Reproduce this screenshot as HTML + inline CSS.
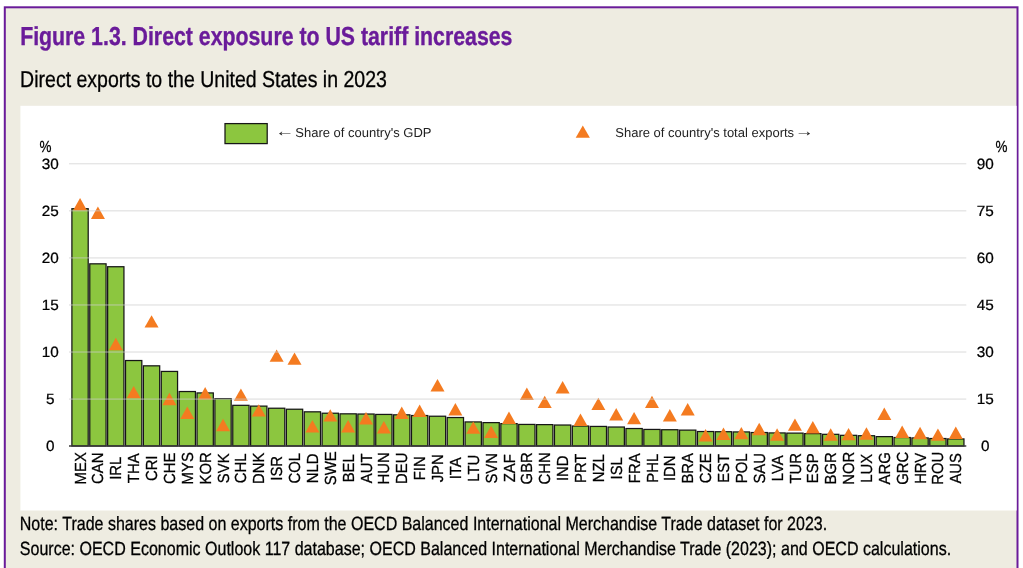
<!DOCTYPE html>
<html lang="en"><head><meta charset="utf-8"><title>Figure 1.3. Direct exposure to US tariff increases</title>
<style>html,body{margin:0;padding:0;background:#fff;overflow:hidden}svg{display:block}text{font-family:"Liberation Sans",Arial,Helvetica,sans-serif;text-rendering:geometricPrecision}.ax{font-size:15.3px;fill:#000;stroke:#000;stroke-width:.25px}.lg{font-size:13px;fill:#222}.bar{fill:#8cc63f;stroke:#161616;stroke-width:1.25}.tri{fill:#f47b20}.grid{stroke:#cdcdcd;stroke-width:.8;opacity:.9}</style></head><body>
<svg width="1023" height="568" viewBox="0 0 1023 568">
<rect x="0" y="0" width="1023" height="568" fill="#fff"/>
<rect x="4.8" y="7.3" width="1012.7" height="570" fill="#eeece1" stroke="#6a1b9a" stroke-width="2"/>
<rect x="20.4" y="105.8" width="996.2" height="404.7" fill="#fff"/>
<text x="20.15" y="45" font-size="26" font-weight="bold" fill="#6a1b9a" stroke="#6a1b9a" stroke-width=".35" textLength="492.3" lengthAdjust="spacingAndGlyphs">Figure 1.3. Direct exposure to US tariff increases</text>
<text x="20.1" y="86.6" font-size="23" fill="#000" stroke="#000" stroke-width=".3" textLength="366.8" lengthAdjust="spacingAndGlyphs">Direct exports to the United States in 2023</text>
<text x="19.8" y="530.3" font-size="19.2" fill="#000" stroke="#000" stroke-width=".3" textLength="807.4" lengthAdjust="spacingAndGlyphs">Note: Trade shares based on exports from the OECD Balanced International Merchandise Trade dataset for 2023.</text>
<text x="19.8" y="554.9" font-size="19.2" fill="#000" stroke="#000" stroke-width=".3" textLength="931.3" lengthAdjust="spacingAndGlyphs">Source: OECD Economic Outlook 117 database; OECD Balanced International Merchandise Trade (2023); and OECD calculations.</text>
<g>
<rect class="bar" x="71.90" y="208.72" width="16.30" height="237.28"/>
<rect class="bar" x="89.77" y="263.83" width="16.30" height="182.17"/>
<rect class="bar" x="107.64" y="266.73" width="16.30" height="179.27"/>
<rect class="bar" x="125.52" y="360.53" width="16.30" height="85.47"/>
<rect class="bar" x="143.39" y="365.83" width="16.30" height="80.17"/>
<rect class="bar" x="161.26" y="371.43" width="16.30" height="74.57"/>
<rect class="bar" x="179.13" y="391.53" width="16.30" height="54.47"/>
<rect class="bar" x="197.01" y="392.93" width="16.30" height="53.07"/>
<rect class="bar" x="214.88" y="398.62" width="16.30" height="47.38"/>
<rect class="bar" x="232.75" y="405.33" width="16.30" height="40.67"/>
<rect class="bar" x="250.62" y="406.12" width="16.30" height="39.88"/>
<rect class="bar" x="268.50" y="408.23" width="16.30" height="37.77"/>
<rect class="bar" x="286.37" y="409.23" width="16.30" height="36.77"/>
<rect class="bar" x="304.24" y="411.83" width="16.30" height="34.17"/>
<rect class="bar" x="322.11" y="413.23" width="16.30" height="32.77"/>
<rect class="bar" x="339.99" y="413.83" width="16.30" height="32.17"/>
<rect class="bar" x="357.86" y="414.03" width="16.30" height="31.97"/>
<rect class="bar" x="375.73" y="414.43" width="16.30" height="31.57"/>
<rect class="bar" x="393.60" y="414.83" width="16.30" height="31.17"/>
<rect class="bar" x="411.48" y="415.53" width="16.30" height="30.47"/>
<rect class="bar" x="429.35" y="416.23" width="16.30" height="29.77"/>
<rect class="bar" x="447.22" y="417.53" width="16.30" height="28.47"/>
<rect class="bar" x="465.09" y="421.93" width="16.30" height="24.07"/>
<rect class="bar" x="482.97" y="422.62" width="16.30" height="23.38"/>
<rect class="bar" x="500.84" y="423.62" width="16.30" height="22.38"/>
<rect class="bar" x="518.71" y="424.43" width="16.30" height="21.57"/>
<rect class="bar" x="536.58" y="424.62" width="16.30" height="21.38"/>
<rect class="bar" x="554.46" y="425.03" width="16.30" height="20.97"/>
<rect class="bar" x="572.33" y="426.03" width="16.30" height="19.97"/>
<rect class="bar" x="590.20" y="426.43" width="16.30" height="19.57"/>
<rect class="bar" x="608.07" y="427.03" width="16.30" height="18.97"/>
<rect class="bar" x="625.95" y="428.53" width="16.30" height="17.47"/>
<rect class="bar" x="643.82" y="429.43" width="16.30" height="16.57"/>
<rect class="bar" x="661.69" y="429.73" width="16.30" height="16.27"/>
<rect class="bar" x="679.56" y="430.12" width="16.30" height="15.88"/>
<rect class="bar" x="697.44" y="431.53" width="16.30" height="14.47"/>
<rect class="bar" x="715.31" y="431.73" width="16.30" height="14.27"/>
<rect class="bar" x="733.18" y="431.93" width="16.30" height="14.07"/>
<rect class="bar" x="751.05" y="432.53" width="16.30" height="13.47"/>
<rect class="bar" x="768.93" y="432.93" width="16.30" height="13.07"/>
<rect class="bar" x="786.80" y="433.12" width="16.30" height="12.88"/>
<rect class="bar" x="804.67" y="433.62" width="16.30" height="12.38"/>
<rect class="bar" x="822.54" y="434.33" width="16.30" height="11.67"/>
<rect class="bar" x="840.42" y="435.33" width="16.30" height="10.67"/>
<rect class="bar" x="858.29" y="435.73" width="16.30" height="10.27"/>
<rect class="bar" x="876.16" y="436.62" width="16.30" height="9.38"/>
<rect class="bar" x="894.03" y="437.53" width="16.30" height="8.47"/>
<rect class="bar" x="911.91" y="437.93" width="16.30" height="8.07"/>
<rect class="bar" x="929.78" y="438.53" width="16.30" height="7.47"/>
<rect class="bar" x="947.65" y="438.93" width="16.30" height="7.07"/>
</g>
<g>
<path class="tri" d="M80.05 198.00L87.05 210.40L73.05 210.40Z"/>
<path class="tri" d="M97.92 206.60L104.92 219.00L90.92 219.00Z"/>
<path class="tri" d="M115.79 337.80L122.79 350.20L108.79 350.20Z"/>
<path class="tri" d="M133.67 385.90L140.67 398.30L126.67 398.30Z"/>
<path class="tri" d="M151.54 315.20L158.54 327.60L144.54 327.60Z"/>
<path class="tri" d="M169.41 392.80L176.41 405.20L162.41 405.20Z"/>
<path class="tri" d="M187.28 406.60L194.28 419.00L180.28 419.00Z"/>
<path class="tri" d="M205.16 387.00L212.16 399.40L198.16 399.40Z"/>
<path class="tri" d="M223.03 418.80L230.03 431.20L216.03 431.20Z"/>
<path class="tri" d="M240.90 388.40L247.90 400.80L233.90 400.80Z"/>
<path class="tri" d="M258.77 404.20L265.77 416.60L251.77 416.60Z"/>
<path class="tri" d="M276.65 349.40L283.65 361.80L269.65 361.80Z"/>
<path class="tri" d="M294.52 352.40L301.52 364.80L287.52 364.80Z"/>
<path class="tri" d="M312.39 420.00L319.39 432.40L305.39 432.40Z"/>
<path class="tri" d="M330.26 409.20L337.26 421.60L323.26 421.60Z"/>
<path class="tri" d="M348.14 420.00L355.14 432.40L341.14 432.40Z"/>
<path class="tri" d="M366.01 412.10L373.01 424.50L359.01 424.50Z"/>
<path class="tri" d="M383.88 421.00L390.88 433.40L376.88 433.40Z"/>
<path class="tri" d="M401.75 406.60L408.75 419.00L394.75 419.00Z"/>
<path class="tri" d="M419.63 404.60L426.63 417.00L412.63 417.00Z"/>
<path class="tri" d="M437.50 379.00L444.50 391.40L430.50 391.40Z"/>
<path class="tri" d="M455.37 403.00L462.37 415.40L448.37 415.40Z"/>
<path class="tri" d="M473.24 421.40L480.24 433.80L466.24 433.80Z"/>
<path class="tri" d="M491.12 425.70L498.12 438.10L484.12 438.10Z"/>
<path class="tri" d="M508.99 411.50L515.99 423.90L501.99 423.90Z"/>
<path class="tri" d="M526.86 387.60L533.86 400.00L519.86 400.00Z"/>
<path class="tri" d="M544.73 395.70L551.73 408.10L537.73 408.10Z"/>
<path class="tri" d="M562.61 381.00L569.61 393.40L555.61 393.40Z"/>
<path class="tri" d="M580.48 413.60L587.48 426.00L573.48 426.00Z"/>
<path class="tri" d="M598.35 397.70L605.35 410.10L591.35 410.10Z"/>
<path class="tri" d="M616.22 408.00L623.22 420.40L609.22 420.40Z"/>
<path class="tri" d="M634.10 411.90L641.10 424.30L627.10 424.30Z"/>
<path class="tri" d="M651.97 395.70L658.97 408.10L644.97 408.10Z"/>
<path class="tri" d="M669.84 409.00L676.84 421.40L662.84 421.40Z"/>
<path class="tri" d="M687.71 403.00L694.71 415.40L680.71 415.40Z"/>
<path class="tri" d="M705.59 429.10L712.59 441.50L698.59 441.50Z"/>
<path class="tri" d="M723.46 427.50L730.46 439.90L716.46 439.90Z"/>
<path class="tri" d="M741.33 426.90L748.33 439.30L734.33 439.30Z"/>
<path class="tri" d="M759.20 422.80L766.20 435.20L752.20 435.20Z"/>
<path class="tri" d="M777.08 428.30L784.08 440.70L770.08 440.70Z"/>
<path class="tri" d="M794.95 418.40L801.95 430.80L787.95 430.80Z"/>
<path class="tri" d="M812.82 421.00L819.82 433.40L805.82 433.40Z"/>
<path class="tri" d="M830.69 428.30L837.69 440.70L823.69 440.70Z"/>
<path class="tri" d="M848.57 427.90L855.57 440.30L841.57 440.30Z"/>
<path class="tri" d="M866.44 427.30L873.44 439.70L859.44 439.70Z"/>
<path class="tri" d="M884.31 407.60L891.31 420.00L877.31 420.00Z"/>
<path class="tri" d="M902.18 425.50L909.18 437.90L895.18 437.90Z"/>
<path class="tri" d="M920.06 426.80L927.06 439.20L913.06 439.20Z"/>
<path class="tri" d="M937.93 428.40L944.93 440.80L930.93 440.80Z"/>
<path class="tri" d="M955.80 426.50L962.80 438.90L948.80 438.90Z"/>
</g>
<g>
<line class="grid" x1="69" y1="399.09" x2="966.3" y2="399.09"/>
<line class="grid" x1="69" y1="352.03" x2="966.3" y2="352.03"/>
<line class="grid" x1="69" y1="304.97" x2="966.3" y2="304.97"/>
<line class="grid" x1="69" y1="257.91" x2="966.3" y2="257.91"/>
<line class="grid" x1="69" y1="210.85" x2="966.3" y2="210.85"/>
<line class="grid" x1="69" y1="163.79" x2="966.3" y2="163.79"/>
</g>
<line x1="69" y1="446.00" x2="966.3" y2="446.00" stroke="#3a3a3a" stroke-width="1.5"/>
<g class="ax" text-anchor="middle">
<text transform="translate(50.2 451.15) scale(1 .975)">0</text>
<text transform="translate(985.3 451.15) scale(1 .975)">0</text>
<text transform="translate(50.2 404.09) scale(1 .975)">5</text>
<text transform="translate(985.3 404.09) scale(1 .975)">15</text>
<text transform="translate(50.2 357.03) scale(1 .975)">10</text>
<text transform="translate(985.3 357.03) scale(1 .975)">30</text>
<text transform="translate(50.2 309.97) scale(1 .975)">15</text>
<text transform="translate(985.3 309.97) scale(1 .975)">45</text>
<text transform="translate(50.2 262.91) scale(1 .975)">20</text>
<text transform="translate(985.3 262.91) scale(1 .975)">60</text>
<text transform="translate(50.2 215.85) scale(1 .975)">25</text>
<text transform="translate(985.3 215.85) scale(1 .975)">75</text>
<text transform="translate(50.2 168.79) scale(1 .975)">30</text>
<text transform="translate(985.3 168.79) scale(1 .975)">90</text>
<text transform="translate(45.4 151.6) scale(.88 1.05)">%</text>
<text transform="translate(1001.6 151.6) scale(.88 1.05)">%</text>
</g>
<g class="ax" text-anchor="middle">
<text transform="translate(85.60 468.3) rotate(-90) scale(.972 1.05)">MEX</text>
<text transform="translate(103.47 468.3) rotate(-90) scale(.972 1.05)">CAN</text>
<text transform="translate(121.34 468.3) rotate(-90) scale(.972 1.05)">IRL</text>
<text transform="translate(139.22 468.3) rotate(-90) scale(.972 1.05)">THA</text>
<text transform="translate(157.09 468.3) rotate(-90) scale(.972 1.05)">CRI</text>
<text transform="translate(174.96 468.3) rotate(-90) scale(.972 1.05)">CHE</text>
<text transform="translate(192.83 468.3) rotate(-90) scale(.972 1.05)">MYS</text>
<text transform="translate(210.71 468.3) rotate(-90) scale(.972 1.05)">KOR</text>
<text transform="translate(228.58 468.3) rotate(-90) scale(.972 1.05)">SVK</text>
<text transform="translate(246.45 468.3) rotate(-90) scale(.972 1.05)">CHL</text>
<text transform="translate(264.32 468.3) rotate(-90) scale(.972 1.05)">DNK</text>
<text transform="translate(282.20 468.3) rotate(-90) scale(.972 1.05)">ISR</text>
<text transform="translate(300.07 468.3) rotate(-90) scale(.972 1.05)">COL</text>
<text transform="translate(317.94 468.3) rotate(-90) scale(.972 1.05)">NLD</text>
<text transform="translate(335.81 468.3) rotate(-90) scale(.972 1.05)">SWE</text>
<text transform="translate(353.69 468.3) rotate(-90) scale(.972 1.05)">BEL</text>
<text transform="translate(371.56 468.3) rotate(-90) scale(.972 1.05)">AUT</text>
<text transform="translate(389.43 468.3) rotate(-90) scale(.972 1.05)">HUN</text>
<text transform="translate(407.30 468.3) rotate(-90) scale(.972 1.05)">DEU</text>
<text transform="translate(425.18 468.3) rotate(-90) scale(.972 1.05)">FIN</text>
<text transform="translate(443.05 468.3) rotate(-90) scale(.972 1.05)">JPN</text>
<text transform="translate(460.92 468.3) rotate(-90) scale(.972 1.05)">ITA</text>
<text transform="translate(478.79 468.3) rotate(-90) scale(.972 1.05)">LTU</text>
<text transform="translate(496.67 468.3) rotate(-90) scale(.972 1.05)">SVN</text>
<text transform="translate(514.54 468.3) rotate(-90) scale(.972 1.05)">ZAF</text>
<text transform="translate(532.41 468.3) rotate(-90) scale(.972 1.05)">GBR</text>
<text transform="translate(550.28 468.3) rotate(-90) scale(.972 1.05)">CHN</text>
<text transform="translate(568.16 468.3) rotate(-90) scale(.972 1.05)">IND</text>
<text transform="translate(586.03 468.3) rotate(-90) scale(.972 1.05)">PRT</text>
<text transform="translate(603.90 468.3) rotate(-90) scale(.972 1.05)">NZL</text>
<text transform="translate(621.77 468.3) rotate(-90) scale(.972 1.05)">ISL</text>
<text transform="translate(639.65 468.3) rotate(-90) scale(.972 1.05)">FRA</text>
<text transform="translate(657.52 468.3) rotate(-90) scale(.972 1.05)">PHL</text>
<text transform="translate(675.39 468.3) rotate(-90) scale(.972 1.05)">IDN</text>
<text transform="translate(693.26 468.3) rotate(-90) scale(.972 1.05)">BRA</text>
<text transform="translate(711.14 468.3) rotate(-90) scale(.972 1.05)">CZE</text>
<text transform="translate(729.01 468.3) rotate(-90) scale(.972 1.05)">EST</text>
<text transform="translate(746.88 468.3) rotate(-90) scale(.972 1.05)">POL</text>
<text transform="translate(764.75 468.3) rotate(-90) scale(.972 1.05)">SAU</text>
<text transform="translate(782.63 468.3) rotate(-90) scale(.972 1.05)">LVA</text>
<text transform="translate(800.50 468.3) rotate(-90) scale(.972 1.05)">TUR</text>
<text transform="translate(818.37 468.3) rotate(-90) scale(.972 1.05)">ESP</text>
<text transform="translate(836.24 468.3) rotate(-90) scale(.972 1.05)">BGR</text>
<text transform="translate(854.12 468.3) rotate(-90) scale(.972 1.05)">NOR</text>
<text transform="translate(871.99 468.3) rotate(-90) scale(.972 1.05)">LUX</text>
<text transform="translate(889.86 468.3) rotate(-90) scale(.972 1.05)">ARG</text>
<text transform="translate(907.73 468.3) rotate(-90) scale(.972 1.05)">GRC</text>
<text transform="translate(925.61 468.3) rotate(-90) scale(.972 1.05)">HRV</text>
<text transform="translate(943.48 468.3) rotate(-90) scale(.972 1.05)">ROU</text>
<text transform="translate(961.35 468.3) rotate(-90) scale(.972 1.05)">AUS</text>
</g>
<rect class="bar" x="225" y="123.6" width="42.2" height="20"/>
<text class="lg" transform="translate(275.2 136.4) scale(1.47 1.15)">←</text>
<text class="lg" x="295.3" y="137">Share of country's GDP</text>
<path class="tri" d="M582.8 125.4L589.9 137.8L575.7 137.8Z"/>
<text class="lg" x="615.3" y="136.8">Share of country's total exports</text>
<text class="lg" transform="translate(794.8 136.2) scale(1.47 1.15)">→</text>
</svg></body></html>
